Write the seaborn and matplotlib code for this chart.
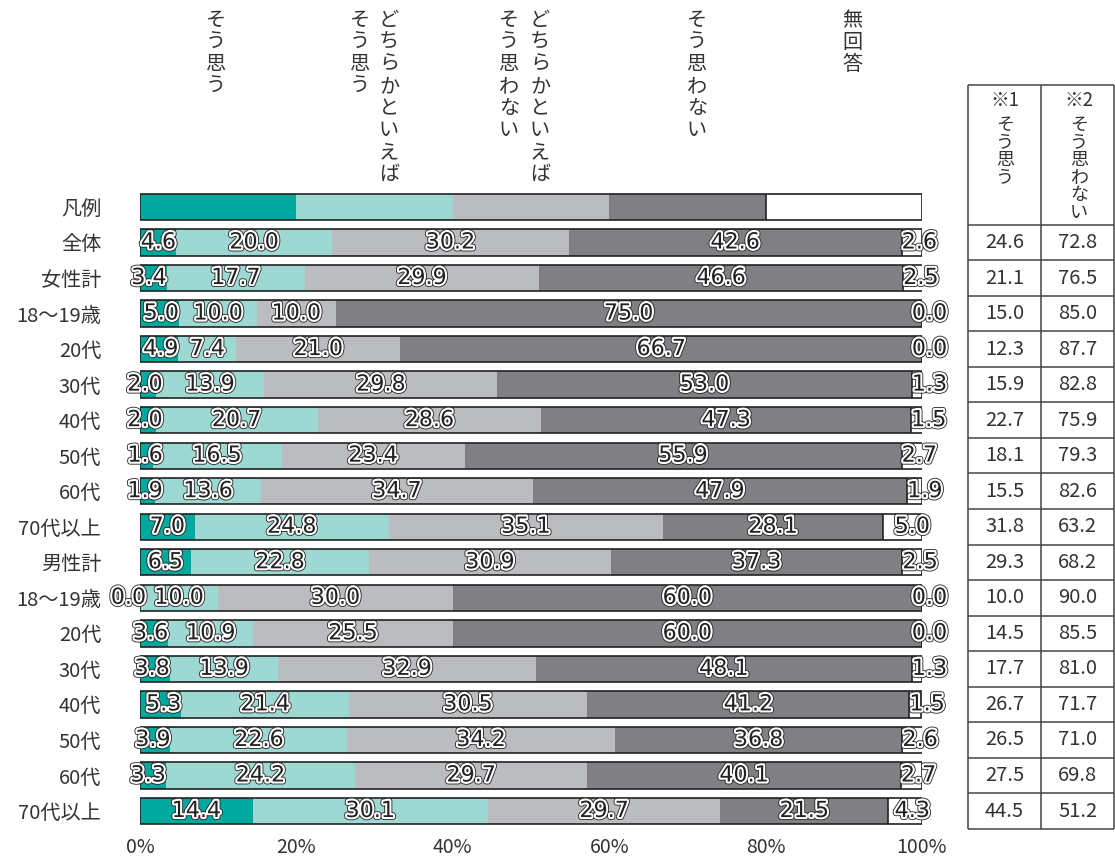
import numpy as np
import pandas as pd
import seaborn as sns
import matplotlib.pyplot as plt
import matplotlib.patheffects as pe

# ---- data ----
categories = ['そう思う', 'どちらかといえばそう思う', 'どちらかといえばそう思わない', 'そう思わない', '無回答']
legend_share = [20, 20, 20, 20, 20]

groups = ['全体', '女性計', '18〜19歳', '20代', '30代', '40代', '50代', '60代', '70代以上',
          '男性計', '18〜19歳', '20代', '30代', '40代', '50代', '60代', '70代以上']
agree = [4.6, 3.4, 5.0, 4.9, 2.0, 2.0, 1.6, 1.9, 7.0, 6.5, 0.0, 3.6, 3.8, 5.3, 3.9, 3.3, 14.4]
rather_agree = [20.0, 17.7, 10.0, 7.4, 13.9, 20.7, 16.5, 13.6, 24.8, 22.8, 10.0, 10.9, 13.9, 21.4, 22.6, 24.2, 30.1]
rather_disagree = [30.2, 29.9, 10.0, 21.0, 29.8, 28.6, 23.4, 34.7, 35.1, 30.9, 30.0, 25.5, 32.9, 30.5, 34.2, 29.7, 29.7]
disagree = [42.6, 46.6, 75.0, 66.7, 53.0, 47.3, 55.9, 47.9, 28.1, 37.3, 60.0, 60.0, 48.1, 41.2, 36.8, 40.1, 21.5]
no_answer = [2.6, 2.5, 0.0, 0.0, 1.3, 1.5, 2.7, 1.9, 5.0, 2.5, 0.0, 0.0, 1.3, 1.5, 2.6, 2.7, 4.3]

# table on the right
agree_total = [24.6, 21.1, 15.0, 12.3, 15.9, 22.7, 18.1, 15.5, 31.8, 29.3, 10.0, 14.5, 17.7, 26.7, 26.5, 27.5, 44.5]
disagree_total = [72.8, 76.5, 85.0, 87.7, 82.8, 75.9, 79.3, 82.6, 63.2, 68.2, 90.0, 85.5, 81.0, 71.7, 71.0, 69.8, 51.2]

colors = ['#00a99d', '#9dd8d3', '#bbbcc0', '#808084', '#ffffff']

# ---- frame ----
values = np.array([legend_share] + list(zip(agree, rather_agree, rather_disagree, disagree, no_answer)), dtype=float)
row_labels = ['凡例'] + groups
n = len(row_labels)
df = pd.DataFrame(values, columns=categories)
df['row'] = np.arange(n)
cum = df[categories].cumsum(axis=1)

W, H = 1115, 861
sns.set_theme(style='white')
plt.rcParams['font.family'] = ['Noto Sans CJK JP', 'DejaVu Sans']
fig = plt.figure(figsize=(W / 100, H / 100), dpi=100)

ax_bottom = 1 - 828.8 / H
ax_top = 1 - 189.2 / H
ax = fig.add_axes([140 / W, ax_bottom, (922 - 140) / W, ax_top - ax_bottom])

bar_w = 0.74
order = list(range(n))
# stacked bars drawn from the back (cumulative)
for k in range(len(categories) - 1, -1, -1):
    sns.barplot(x=cum[categories[k]], y=df['row'], orient='h', order=order, color=colors[k],
                saturation=1, width=bar_w, linewidth=0, errorbar=None, ax=ax)
# outline of every bar
sns.barplot(x=cum[categories[-1]], y=df['row'], orient='h', order=order, fill=False,
            edgecolor='#222222', linewidth=1.2, width=bar_w, errorbar=None, ax=ax)
# left edge of the 無回答 box
ax.vlines(cum[categories[3]], df['row'] - bar_w / 2, df['row'] + bar_w / 2, color='#222222', lw=1.2)

ax.set_xlim(0, 100)
ax.set_ylim(n - 0.5, -0.5)
ax.set_xticks(range(0, 101, 20))
ax.set_xticklabels([f'{t}%' for t in range(0, 101, 20)], fontsize=14, color='#333333')
ax.set_yticks(order)
ax.set_yticklabels(row_labels, fontsize=14.5, color='#333333')
ax.tick_params(axis='y', length=0, pad=28)
ax.tick_params(axis='x', length=0, pad=6)
ax.set_xlabel('')
ax.set_ylabel('')
sns.despine(ax=ax, left=True, bottom=True)

# ---- value labels ----
halo = [pe.Stroke(linewidth=4.2, foreground='#222222'), pe.Stroke(linewidth=3.0, foreground='white'), pe.Normal()]
lab_kw = dict(fontsize=16, color='#222222', va='center', family='DejaVu Sans', path_effects=halo)
for r in range(1, n):
    v = values[r]
    for k in range(5):
        txt = f'{v[k]:.1f}'
        start = cum.iloc[r, k] - v[k]
        if k == 0 and v[k] < 6:
            x = max(v[k], 2.9) if v[k] > 0 else 0.8
            ax.text(x, r, txt, ha='right', **lab_kw)
        elif k == 4:
            x = min(max(start, 96.5), 98.7)
            ax.text(x, r, txt, ha='left', **lab_kw)
        else:
            ax.text(start + v[k] / 2, r, txt, ha='center', **lab_kw)


def vtext(x_px, y_px, s, size, step):
    for i, ch in enumerate(s):
        fig.text(x_px / W, 1 - (y_px + i * step) / H, ch, ha='center', va='top',
                 fontsize=size, color='#333333')


# header labels above the legend bar (vertical, right column first)
vtext(216, 10, 'そう思う', 14.5, 22)
vtext(389, 10, 'どちらかといえば', 14.5, 22)
vtext(360, 10, 'そう思う', 14.5, 22)
vtext(540, 10, 'どちらかといえば', 14.5, 22)
vtext(509, 10, 'そう思わない', 14.5, 22)
vtext(697, 10, 'そう思わない', 14.5, 22)
vtext(852, 10, '無回答', 14.5, 22)

# ---- table ----
tab_top = 1 - 85 / H
tax = fig.add_axes([968 / W, ax_bottom, (1114 - 968) / W, tab_top - ax_bottom])
y_head = (85 - 207) / ((828.8 - 189.2) / n)
tax.set_xlim(0, 2)
tax.set_ylim(n - 0.5, y_head)
tax.axis('off')
line_kw = dict(color='#444444', lw=1.1, clip_on=False)
tax.hlines([y_head] + [r + 0.5 for r in range(0, n)], 0, 2, **line_kw)
tax.vlines([0, 1, 2], y_head, n - 0.5, **line_kw)
for r in range(1, n):
    tax.text(0.5, r, f'{agree_total[r - 1]:.1f}', ha='center', va='center', fontsize=14.5, color='#333333')
    tax.text(1.5, r, f'{disagree_total[r - 1]:.1f}', ha='center', va='center', fontsize=14.5, color='#333333')

fig.text(1005 / W, 1 - 90 / H, '※1', ha='center', va='top', fontsize=13.5, color='#333333')
fig.text(1079 / W, 1 - 90 / H, '※2', ha='center', va='top', fontsize=13.5, color='#333333')
vtext(1005, 116, 'そう思う', 13, 17.5)
vtext(1079, 116, 'そう思わない', 13, 17.5)

fig.savefig('out.png', dpi=100)
